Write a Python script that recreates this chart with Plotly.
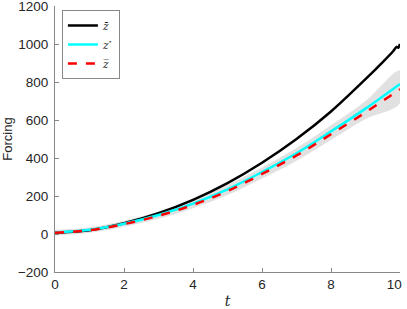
import plotly.graph_objects as go

t = [0, 1, 2, 3, 4, 5, 6, 7, 8, 9, 10]
black_t = [0, 1, 2, 3, 4, 5, 6, 7, 8, 9, 9.5, 9.8, 9.9, 9.95, 10]
black_z = [6, 20, 57, 110, 180, 268, 375, 500, 645, 815, 905, 962, 985, 980, 1000]
cyan_z = [8, 22, 54, 100, 160, 235, 326, 425, 540, 660, 790]
red_z = [6, 20, 52, 96, 153, 226, 316, 413, 525, 640, 762]
band_hi = [22, 36, 70, 118, 180, 258, 350, 452, 572, 700, 860]
band_lo = [-8, 6, 38, 80, 136, 205, 292, 386, 495, 605, 690]
x_ticks = [0, 2, 4, 6, 8, 10]
x_labels = ["0", "2", "4", "6", "8", "10\u00a0\u00a0\u00a0"]
y_ticks = [-200, 0, 200, 400, 600, 800, 1000, 1200]

font = "Liberation Sans, Arial, Helvetica, sans-serif"
serif = "DejaVu Serif, Liberation Serif, serif"
fig = go.Figure()

fig.add_trace(go.Scatter(
    x=t + t[::-1], y=band_hi + band_lo[::-1], fill="toself",
    fillcolor="rgba(222,222,222,0.9)", line=dict(width=0, shape="spline"),
    mode="lines", showlegend=False, hoverinfo="skip"))

fig.add_trace(go.Scatter(x=black_t, y=black_z, mode="lines", name="<i>z\u0304</i>",
                         line=dict(color="black", width=2.5, shape="spline", smoothing=0.6)))
fig.add_trace(go.Scatter(x=t, y=cyan_z, mode="lines", name="<i>z</i><sup>\u22c6</sup>",
                         line=dict(color="#00ffff", width=2.5, shape="spline")))
fig.add_trace(go.Scatter(x=t, y=red_z, mode="lines", name="<i>z\u0305</i>",
                         line=dict(color="#ff0000", width=2.5, dash="dash", shape="spline")))

axis_common = dict(showline=True, linecolor="#888888", linewidth=1, ticks="inside",
                   ticklen=4, tickcolor="#888888", showgrid=False, zeroline=False,
                   tickfont=dict(family=font, size=13.5, color="#262626"), mirror=False,
                   ticklabeloverflow="allow", automargin=False)

fig.update_layout(
    width=407, height=309,
    margin=dict(l=55, r=7, t=6, b=37),
    plot_bgcolor="white", paper_bgcolor="white",
    font=dict(family=font, size=13, color="#262626"),
    xaxis=dict(range=[0, 10], tickvals=x_ticks, ticktext=x_labels,
               title=dict(text="<i>t</i>", font=dict(family=serif, size=14), standoff=6),
               **axis_common),
    yaxis=dict(range=[-200, 1200], tickvals=y_ticks, ticklabelstandoff=3,
               title=dict(text="Forcing", font=dict(family=font, size=13), standoff=6),
               **axis_common),
    legend=dict(x=0.02, y=0.985, xanchor="left", yanchor="top",
                bgcolor="white", bordercolor="#888888", borderwidth=1,
                font=dict(family=serif, size=10.5, color="#262626"),
                tracegroupgap=0, itemwidth=30),
)

fig.write_html("out.html", config={"displayModeBar": False},
               post_script="document.body.style.margin='0';document.body.style.padding='0';")
